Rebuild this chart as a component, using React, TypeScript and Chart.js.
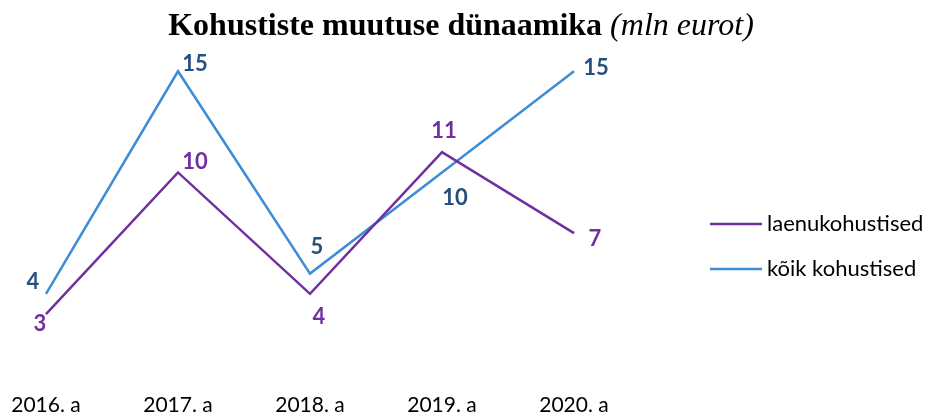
import React, { useEffect, useRef } from "react";
import { Chart, registerables } from "chart.js";

Chart.register(...registerables);

const categories = ["2016. a", "2017. a", "2018. a", "2019. a", "2020. a"];
const laenukohustised = [3, 10, 4, 11, 7];
const koikKohustised = [4, 15, 5, 10, 15];
const seriesNames = ["laenukohustised", "kõik kohustised"];
const titleBold = "Kohustiste muutuse dünaamika";
const titleItalic = " (mln eurot)";

// label offsets relative to each point (style, not data)
const labelOffsets = [
  [[-6, 10], [17, -11], [9, 23], [2, -21], [21, 6]],
  [[-13, -12], [17, -7], [7, -27], [13, 25], [22, -3]],
];
const lineColors = ["#7030A0", "#3D8DD6"];
const labelColors = ["#7030A0", "#24507D"];

const overlayPlugin = {
  id: "overlay",
  afterDraw(chart: any) {
    const ctx = chart.ctx;
    ctx.save();
    // title
    ctx.textBaseline = "alphabetic";
    ctx.fillStyle = "#000";
    const fb = "bold 32px 'Liberation Serif', 'Times New Roman', serif";
    const fi = "italic 32px 'Liberation Serif', 'Times New Roman', serif";
    ctx.font = fb;
    const w1 = ctx.measureText(titleBold).width;
    ctx.font = fi;
    const w2 = ctx.measureText(titleItalic).width;
    const x0 = 461 - (w1 + w2) / 2;
    ctx.textAlign = "left";
    ctx.font = fb;
    ctx.fillText(titleBold, x0, 35);
    ctx.font = fi;
    ctx.fillText(titleItalic, x0 + w1, 35);

    // data labels
    ctx.font = "bold 22px Lato, 'Open Sans', sans-serif";
    ctx.textAlign = "center";
    ctx.textBaseline = "middle";
    chart.data.datasets.forEach((ds: any, di: number) => {
      const meta = chart.getDatasetMeta(di);
      meta.data.forEach((pt: any, i: number) => {
        const [dx, dy] = labelOffsets[di][i];
        ctx.fillStyle = labelColors[di];
        ctx.fillText(String(ds.data[i]), pt.x + dx, pt.y + dy);
      });
    });

    // legend
    ctx.font = "22px Lato, 'Open Sans', sans-serif";
    ctx.textAlign = "left";
    const legendY = [224, 269];
    seriesNames.forEach((name, i) => {
      ctx.strokeStyle = lineColors[i];
      ctx.lineWidth = 2.5;
      ctx.beginPath();
      ctx.moveTo(710, legendY[i]);
      ctx.lineTo(762, legendY[i]);
      ctx.stroke();
      ctx.fillStyle = "#000";
      ctx.fillText(name, 767, legendY[i]);
    });
    ctx.restore();
  },
};

export default function App() {
  const ref = useRef<HTMLCanvasElement>(null);
  useEffect(() => {
    document.body.style.margin = "0";
    const chart = new Chart(ref.current!, {
      type: "line",
      data: {
        labels: categories,
        datasets: [
          {
            label: seriesNames[0],
            data: laenukohustised,
            borderColor: lineColors[0],
            borderWidth: 2.5,
            pointRadius: 0,
            tension: 0,
            clip: false,
          },
          {
            label: seriesNames[1],
            data: koikKohustised,
            borderColor: lineColors[1],
            borderWidth: 2.5,
            pointRadius: 0,
            tension: 0,
            clip: false,
          },
        ],
      },
      options: {
        animation: false,
        responsive: false,
        layout: { padding: { left: 46, right: 354, top: 51, bottom: -17 } },
        plugins: { legend: { display: false }, title: { display: false }, tooltip: { enabled: false } },
        scales: {
          x: {
            offset: false,
            grid: { display: false, drawTicks: false },
            border: { display: false },
            afterFit: (scale: any) => {
              scale.paddingLeft = 0;
              scale.paddingRight = 0;
            },
            ticks: {
              color: "#000",
              font: { family: "Lato, 'Open Sans', sans-serif", size: 21 },
              padding: 18,
              maxRotation: 0,
              autoSkip: false,
            },
          },
          y: { display: false, min: 0, max: 16 },
        },
      },
      plugins: [overlayPlugin],
    });
    return () => chart.destroy();
  }, []);
  return (
    <div style={{ width: 928, height: 419 }}>
      <canvas ref={ref} width={928} height={419} />
    </div>
  );
}
